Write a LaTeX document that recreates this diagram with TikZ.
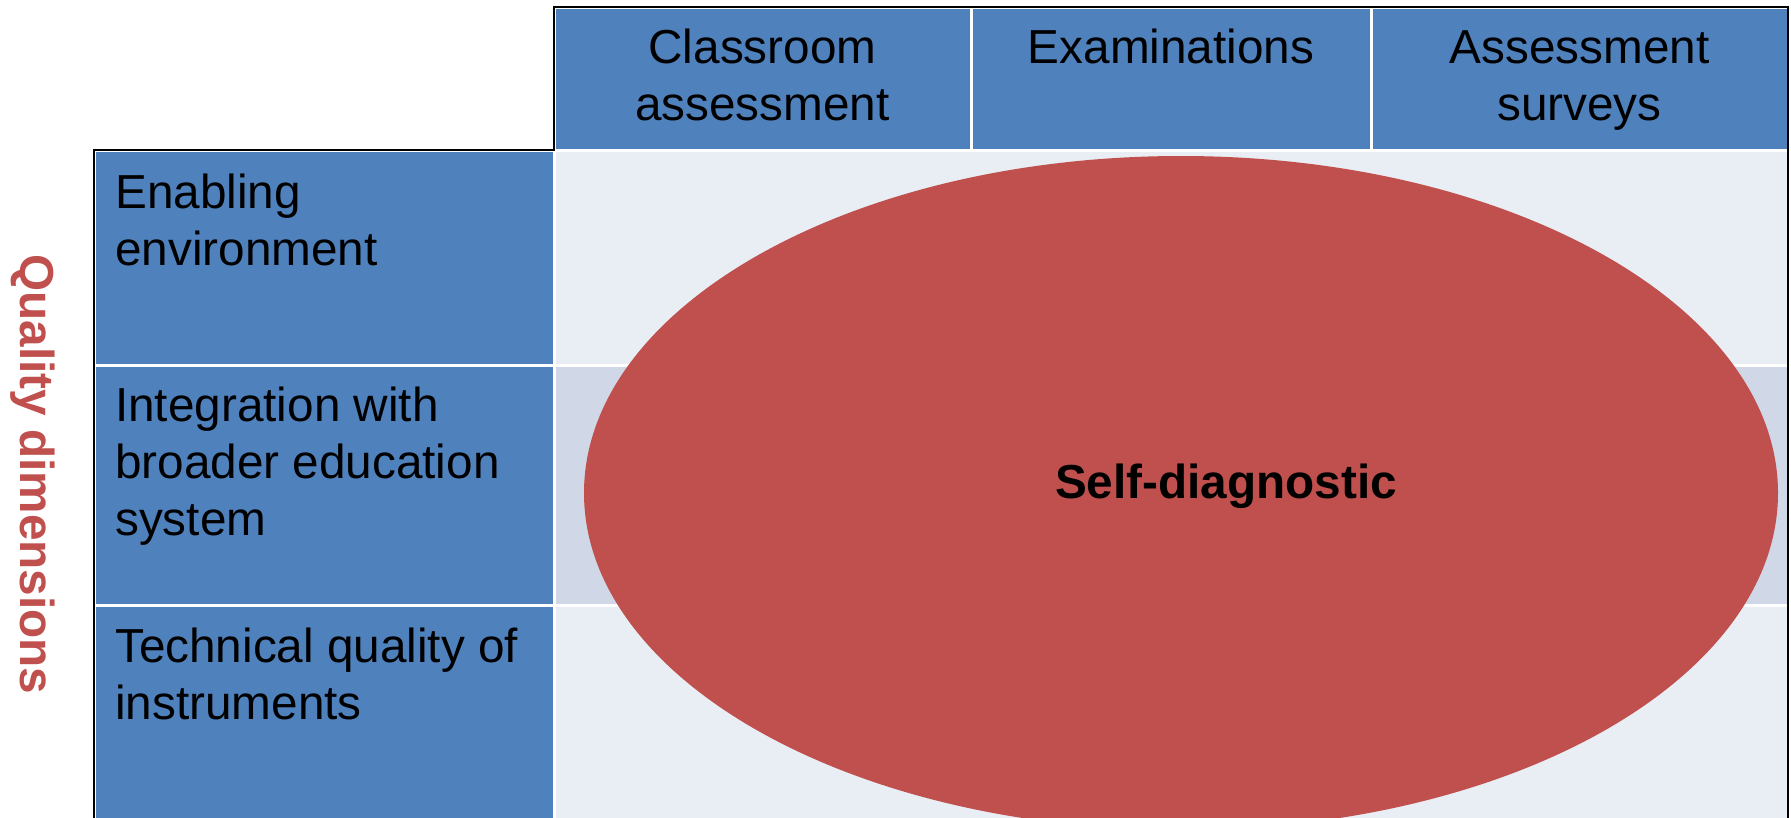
\documentclass[tikz,border=0pt]{standalone}
\usepackage{fontspec}
\setmainfont{Liberation Sans}
\definecolor{hdrblue}{HTML}{4F81BD}
\definecolor{celllight}{HTML}{E9EDF4}
\definecolor{cellmid}{HTML}{D0D8E8}
\definecolor{ovalred}{HTML}{C0504D}
\newcommand\celltext[2]{\begin{tabular}[t]{@{}#1@{}}#2\end{tabular}}
\begin{document}
\begin{tikzpicture}[x=1pt,y=-1pt,
  bluecell/.style={fill=hdrblue, draw=white, line width=3pt},
  lightcell/.style={fill=celllight, draw=white, line width=3pt},
  midcell/.style={fill=cellmid, draw=white, line width=3pt},
  border/.style={draw=black, line width=2.6pt},
  txt/.style={inner sep=0pt, text=black, font=\fontsize{47.7}{57}\selectfont},
  boldtxt/.style={inner sep=0pt, font=\bfseries\fontsize{47.7}{57}\selectfont}]
\useasboundingbox (0,0) rectangle (1791,817);
\clip (0,0) rectangle (1791,817);
\fill[white] (0,0) rectangle (1791,817);
% header cells
\path[bluecell] (554,7) rectangle (971,150);
\path[bluecell] (971,7) rectangle (1371,150);
\path[bluecell] (1371,7) rectangle (1788,150);
% row header cells
\path[bluecell] (94,150) rectangle (554,365);
\path[bluecell] (94,365) rectangle (554,605);
\path[bluecell] (94,605) rectangle (554,840);
% data cells
\path[lightcell] (554,150) rectangle (1788,365);
\path[midcell] (554,365) rectangle (1788,605);
\path[lightcell] (554,605) rectangle (1788,840);
% outer black border
\draw[border] (94,840) -- (94,150) -- (554,150) -- (554,7) -- (1788,7) -- (1788,840);
% ellipse
\fill[ovalred] (1181,493) ellipse [x radius=597pt, y radius=337pt];
% texts
\node[txt, anchor=base] (cls) at (762.5,63) {\celltext{c}{Classroom\\assessment}};
\node[txt, anchor=base] (exa) at (1171,63) {Examinations};
\node[txt, anchor=base] (asv) at (1579.5,63) {\celltext{c}{Assessment\\surveys}};
\node[txt, anchor=base west] (enab) at (115,208) {\celltext{l}{Enabling\\environment}};
\node[txt, anchor=base west] (integ) at (115,421) {\celltext{l}{Integration with\\broader education\\system}};
\node[txt, anchor=base west] (tech) at (115,662) {\celltext{l}{Technical quality of\\instruments}};
\node[boldtxt, anchor=base, text=ovalred, rotate=-90] (qd) at (20,474.5) {Quality dimensions};
\node[boldtxt, anchor=base, text=black] (sd) at (1226,498) {Self-diagnostic};
\end{tikzpicture}
\end{document}
